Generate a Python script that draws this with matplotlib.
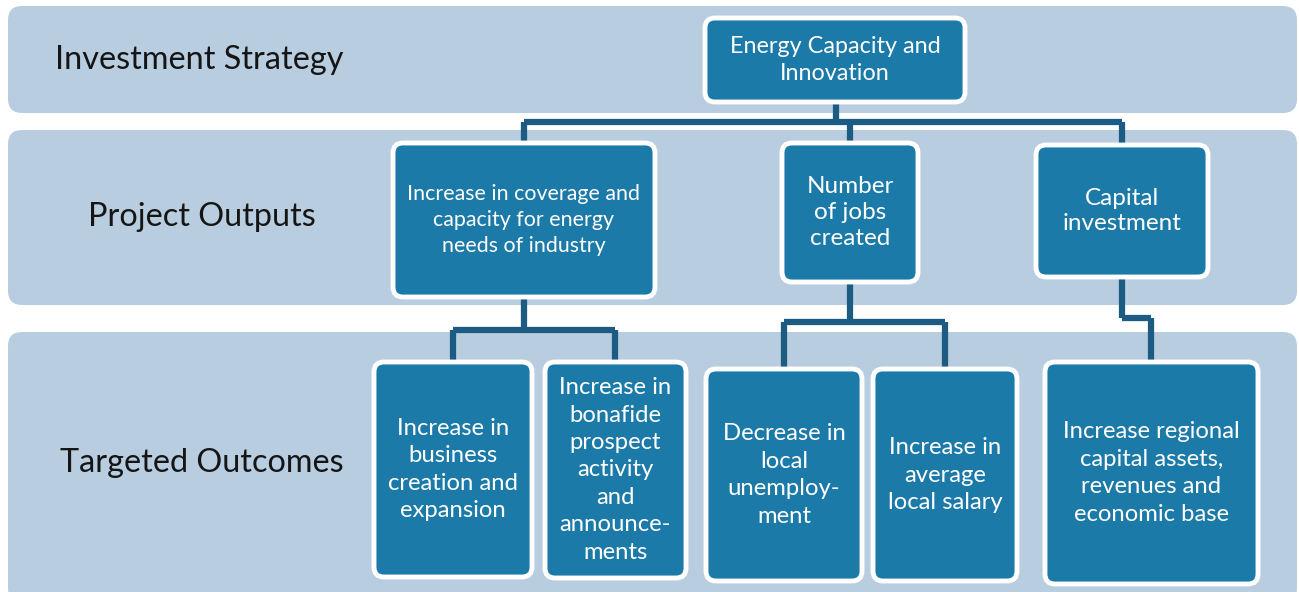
import matplotlib.pyplot as plt
from matplotlib.patches import FancyBboxPatch

# row labels
row_labels = ["Investment Strategy", "Project Outputs", "Targeted Outcomes"]

# box texts
strategy = "Energy Capacity and\nInnovation"
outputs = ["Increase in coverage and\ncapacity for energy\nneeds of industry",
           "Number\nof jobs\ncreated",
           "Capital\ninvestment"]
outcomes = ["Increase in\nbusiness\ncreation and\nexpansion",
            "Increase in\nbonafide\nprospect\nactivity\nand\nannounce-\nments",
            "Decrease in\nlocal\nunemploy-\nment",
            "Increase in\naverage\nlocal salary",
            "Increase regional\ncapital assets,\nrevenues and\neconomic base"]
# which output each outcome hangs from
outcome_parent = [0, 0, 1, 1, 2]

BAND = "#b8cde0"
BOX = "#1b7aa7"
LINE = "#1c5b82"
FONT = ["Lato", "DejaVu Sans"]

fig = plt.figure(figsize=(12.99, 5.92), dpi=100)
ax = fig.add_axes([0, 0, 1, 1])
ax.set_xlim(0, 1299)
ax.set_ylim(592, 0)
ax.axis("off")

# background bands (x, y, w, h) in pixels
bands = [(8, 6, 1289, 107), (8, 130, 1289, 175), (8, 332, 1289, 270)]
label_y = [60, 217, 463]
label_x = [55, 88, 60]
for (x, y, w, h), lab, ly, lx in zip(bands, row_labels, label_y, label_x):
    ax.add_patch(FancyBboxPatch((x, y), w, h, boxstyle="round,pad=0,rounding_size=14",
                                fc=BAND, ec="none", zorder=1))
    ax.text(lx, ly, lab, fontsize=23.3, family=FONT, color="#151515",
            va="center", ha="left", zorder=5)


def box(x0, y0, x1, y1, text, fs, ls=1.2):
    ax.add_patch(FancyBboxPatch((x0, y0), x1 - x0, y1 - y0,
                                boxstyle="round,pad=0,rounding_size=10",
                                fc=BOX, ec="white", lw=3.5, zorder=4))
    ax.text((x0 + x1) / 2, (y0 + y1) / 2, text, fontsize=fs, family=FONT,
            color="white", ha="center", va="center", linespacing=ls, zorder=5)


def conn(xs, ys):
    ax.plot(xs, ys, color=LINE, lw=4.5, solid_capstyle="butt",
            solid_joinstyle="miter", zorder=3)


# box geometry
top_box = (705, 18, 965, 102)
out_boxes = [(393, 143, 655, 297), (782, 143, 918, 282), (1036, 145, 1208, 277)]
outc_boxes = [(374, 362, 532, 577), (545, 362, 686, 578), (706, 369, 862, 581),
              (873, 369, 1017, 581), (1045, 362, 1258, 584)]

# connectors: strategy -> outputs
conn([836, 836], [102, 122])
out_cx = [(b[0] + b[2]) / 2 for b in out_boxes]
conn([out_cx[0], out_cx[2]], [122, 122])
for b, cx in zip(out_boxes, out_cx):
    conn([cx, cx], [122, b[1]])

# connectors: outputs -> outcomes
bar_y = [330, 322, 318]
for i, b in enumerate(out_boxes):
    kids = [outc_boxes[k] for k, p in enumerate(outcome_parent) if p == i]
    kx = [(k[0] + k[2]) / 2 for k in kids]
    cx = out_cx[i]
    conn([cx, cx], [b[3], bar_y[i]])
    conn([min(kx + [cx]), max(kx + [cx])], [bar_y[i], bar_y[i]])
    for k, x in zip(kids, kx):
        conn([x, x], [bar_y[i], k[1]])

box(*top_box, strategy, 16.8, 1.32)
out_fs = [15.4, 17.5, 17.5]
out_ls = [1.4, 1.28, 1.28]
for b, t, fs, ls in zip(out_boxes, outputs, out_fs, out_ls):
    box(*b, t, fs, ls)
for b, t in zip(outc_boxes, outcomes):
    box(*b, t, 17.2, 1.38)

fig.savefig("out.png", dpi=100, facecolor="white")
